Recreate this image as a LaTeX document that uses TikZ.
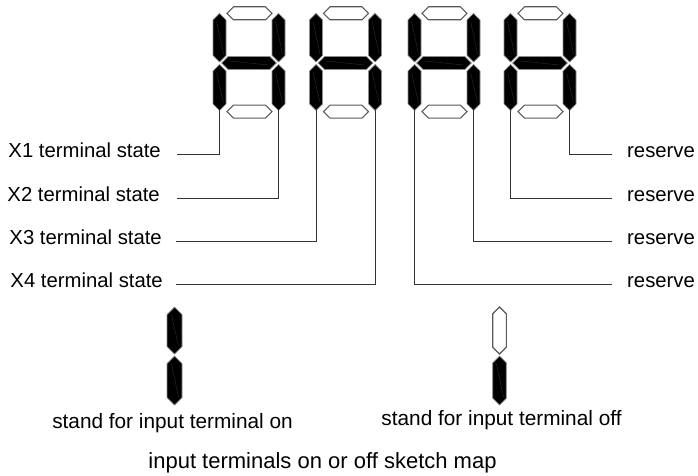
\documentclass[tikz,border=0pt]{standalone}
\usepackage{fontspec}
\setmainfont{Liberation Sans}
% vertical segment: cx, ytop, ybot, half-width, style
\newcommand\segV[5]{%
  \draw[#5] (#1,#2) -- (#1+#4,#2+#4) -- (#1+#4,#3-#4) -- (#1,#3) -- (#1-#4,#3-#4) -- (#1-#4,#2+#4) -- cycle;}
% horizontal segment: xleft, xright, cy, half-width, style
\newcommand\segH[5]{%
  \draw[#5] (#1,#3) -- (#1+#4,#3-#4) -- (#2-#4,#3-#4) -- (#2,#3) -- (#2-#4,#3+#4) -- (#1+#4,#3+#4) -- cycle;}
\newcommand\shineV[3]{\draw[black!78,line width=0.3pt] (#1-3,#2+8) -- (#1+4,#3-8);}
\newcommand\shineH[3]{\draw[black!78,line width=0.3pt] (#1+8,#3-2) -- (#2-8,#3+2);}
\begin{document}
\begin{tikzpicture}[x=1pt,y=-1pt,
  segon/.style={fill=black,draw=black!45,line width=0.7pt},
  segoff/.style={fill=white,draw=black!65,line width=1.1pt},
  lead/.style={draw=black!80,line width=0.8pt},
  lbl/.style={font=\fontsize{20.3}{24}\selectfont,inner sep=0pt},
  captxt/.style={font=\fontsize{20.8}{24}\selectfont,inner sep=0pt}]
\useasboundingbox[fill=white] (0,0) rectangle (698,476);

% ---- four digits ----
\foreach \a in {213,309.5,408,504}{
  \segV{\a+6.5}{13.3}{62}{6.5}{segon}
  \segV{\a+6.5}{64.5}{110.5}{6.5}{segon}
  \segV{\a+65.5}{13.3}{62}{6.5}{segon}
  \segV{\a+65.5}{64.5}{110.5}{6.5}{segon}
  \shineV{\a+6.5}{13.3}{62}
  \shineV{\a+6.5}{64.5}{110.5}
  \shineV{\a+65.5}{13.3}{62}
  \shineV{\a+65.5}{64.5}{110.5}
  \segH{\a+8.7}{\a+63.3}{63}{6.5}{segon}
  \shineH{\a+8.7}{\a+63.3}{63}
  \segH{\a+14}{\a+59}{13.3}{6.5}{segoff}
  \segH{\a+14}{\a+59}{111.7}{6.5}{segoff}
}

% ---- lead start points (bottom tips of lower vertical segments) ----
\coordinate (d1l) at (219.5,110.5);
\coordinate (d1r) at (278.5,110.5);
\coordinate (d2l) at (316,110.5);
\coordinate (d2r) at (375,110.5);
\coordinate (d3l) at (414.5,110.5);
\coordinate (d3r) at (473.5,110.5);
\coordinate (d4l) at (510.5,110.5);
\coordinate (d4r) at (569.5,110.5);

% ---- line free ends ----
\coordinate (e1) at (177,154);
\coordinate (e2) at (177,198);
\coordinate (e3) at (176,241);
\coordinate (e4) at (176,284);
\coordinate (r1) at (612,154);
\coordinate (r2) at (612,198);
\coordinate (r3) at (612,241);
\coordinate (r4) at (612,284);

\draw[lead] (d1l) |- (e1);
\draw[lead] (d1r) |- (e2);
\draw[lead] (d2l) |- (e3);
\draw[lead] (d2r) |- (e4);
\draw[lead] (d4r) |- (r1);
\draw[lead] (d4l) |- (r2);
\draw[lead] (d3r) |- (r3);
\draw[lead] (d3l) |- (r4);

% ---- labels ----
\node[lbl,anchor=east] (x1) at (161,150) {X1 terminal state};
\node[lbl,anchor=east] (x2) at (160,194) {X2 terminal state};
\node[lbl,anchor=east] (x3) at (162,237) {X3 terminal state};
\node[lbl,anchor=east] (x4) at (163,280) {X4 terminal state};
\node[lbl,anchor=west] (s1) at (627,152) {reserve};
\node[lbl,anchor=west] (s2) at (627,196) {reserve};
\node[lbl,anchor=west] (s3) at (627,239) {reserve};
\node[lbl,anchor=west] (s4) at (627,282) {reserve};

% ---- legend icons ----
\segV{174.5}{307}{354}{7.5}{segon}
\segV{174.5}{356}{405}{7.5}{segon}
\shineV{174.5}{307}{354}
\shineV{174.5}{356}{405}
\segV{499.5}{307}{354}{6.8}{segoff}
\segV{499.5}{356}{405}{6.8}{segon}
\shineV{499.5}{356}{405}

\node[captxt] (on) at (172.5,423.5) {stand for input terminal on};
\node[captxt] (off) at (501.5,420) {stand for input terminal off};
\node[font=\fontsize{22}{26}\selectfont,inner sep=0pt] (title) at (322.5,462.5) {input terminals on or off sketch map};
\end{tikzpicture}
\end{document}
